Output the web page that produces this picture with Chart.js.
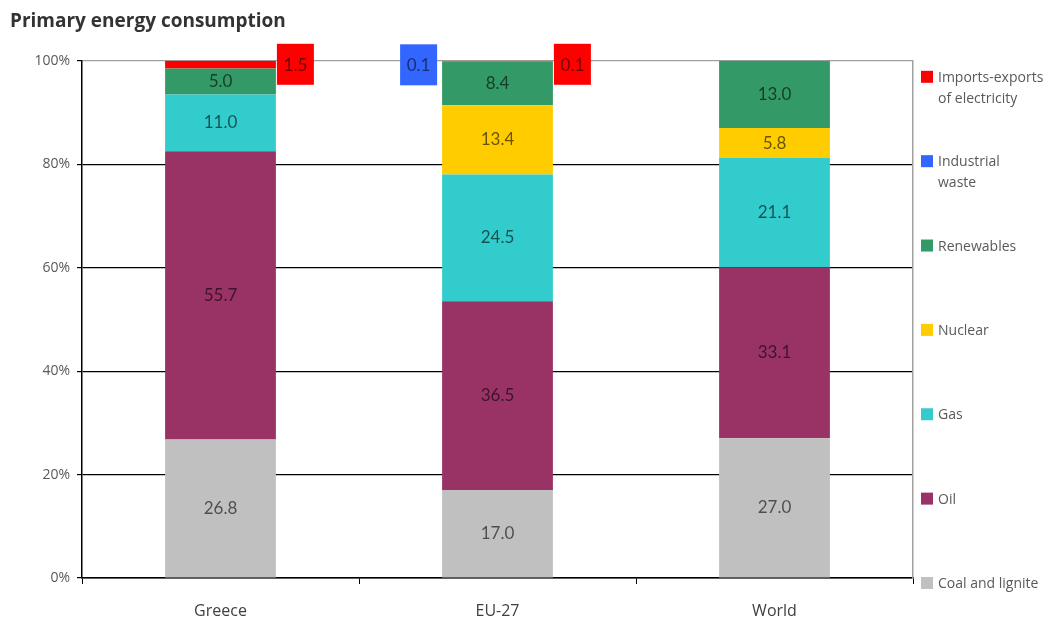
<!DOCTYPE html>
<html lang="en">
<head>
    <meta charset="UTF-8">
    <title>Primary energy consumption</title>
    <script src="https://cdn.jsdelivr.net/npm/chart.js"></script>
    <style>
        html, body { margin: 0; padding: 0; background: #fff; }
        #wrap { width: 1061px; height: 621px; }
    </style>
</head>
<body>
    <div id="wrap"><canvas id="grafico"></canvas></div>

    <script>
// Dados (percentagens)
const regions = ['Greece', 'EU-27', 'World'];
const coal = [26.8, 17.0, 27.0];
const oil = [55.7, 36.5, 33.1];
const gas = [11.0, 24.5, 21.1];
const nuclear = [0, 13.4, 5.8];
const renewables = [5.0, 8.4, 13.0];
const industrialWaste = [0, 0.1, 0];
const importsExports = [1.5, 0.1, 0];
const yTicks = [0, 20, 40, 60, 80, 100];

const seriesNames = ['Coal and lignite', 'Oil', 'Gas', 'Nuclear', 'Renewables', 'Industrial waste', 'Imports-exports of electricity'];
const legendLines = [['Coal and lignite'], ['Oil'], ['Gas'], ['Nuclear'], ['Renewables'], ['Industrial', 'waste'], ['Imports-exports', 'of electricity']];
const seriesValues = [coal, oil, gas, nuclear, renewables, industrialWaste, importsExports];
const colors = ['#c0c0c0', '#993366', '#33cccc', '#ffcc00', '#339966', '#3366ff', '#ff0000'];
// small values get a box beside the bar
const outsideSide = [null, null, null, null, null, 'left', 'right'];

Chart.defaults.font.family = '"Open Sans", "DejaVu Sans", sans-serif';

// rótulos dos valores
const etiquetas = {
    id: 'etiquetas',
    afterDatasetsDraw(chart) {
        const ctx = chart.ctx;
        ctx.save();
        ctx.font = '17px Lato';
        ctx.textAlign = 'center';
        ctx.textBaseline = 'middle';
        chart.data.datasets.forEach((ds, i) => {
            const meta = chart.getDatasetMeta(i);
            meta.data.forEach((bar, j) => {
                const v = ds.data[j];
                if (!v) return;
                const txt = v.toFixed(1);
                if (!ds.outside) {
                    ctx.fillStyle = 'rgba(0,0,0,0.6)';
                    ctx.fillText(txt, bar.x, (bar.y + bar.base) / 2);
                } else {
                    const w = 37, h = 41;
                    const left = ds.outside === 'right'
                        ? bar.x + bar.width / 2 + 1
                        : bar.x - bar.width / 2 - 5 - w;
                    const top = bar.y - 17;
                    ctx.fillStyle = ds.backgroundColor;
                    ctx.fillRect(left, top, w, h);
                    ctx.fillStyle = 'rgba(0,0,0,0.55)';
                    ctx.fillText(txt, left + w / 2, top + h / 2 + 1);
                }
            });
        });
        ctx.restore();
    }
};

// legenda à direita, espalhada na altura do gráfico
const legenda = {
    id: 'legenda',
    afterDraw(chart) {
        const { ctx, chartArea } = chart;
        const items = chart.data.datasets.slice().reverse();
        const first = chartArea.top + 16;
        const last = chartArea.bottom + 5;
        const step = (last - first) / (items.length - 1);
        ctx.save();
        ctx.font = '14px "Open Sans"';
        ctx.textBaseline = 'middle';
        ctx.textAlign = 'left';
        items.forEach((ds, k) => {
            const y = first + k * step;
            ctx.fillStyle = ds.backgroundColor;
            ctx.fillRect(chartArea.right + 8, y - 6, 12, 12);
            ctx.fillStyle = '#595959';
            ds.legendLines.forEach((line, n) => {
                ctx.fillText(line, chartArea.right + 25, y + 1 + n * 21);
            });
        });
        ctx.restore();
    }
};

const datasets = seriesNames.map((name, i) => ({
    label: name,
    data: seriesValues[i],
    backgroundColor: colors[i],
    borderWidth: 0,
    barPercentage: 0.4,
    categoryPercentage: 1.0,
    legendLines: legendLines[i],
    outside: outsideSide[i]
}));

new Chart(document.getElementById('grafico'), {
    type: 'bar',
    data: { labels: regions, datasets: datasets },
    plugins: [etiquetas, legenda],
    options: {
        responsive: true,
        maintainAspectRatio: false,
        animation: false,
        layout: { padding: { left: 10, right: 148, top: 0, bottom: 0 } },
        plugins: {
            legend: { display: false },
            tooltip: { enabled: false },
            title: {
                display: true,
                text: 'Primary energy consumption',
                align: 'start',
                color: '#333',
                font: { size: 19, weight: 'bold' },
                padding: { top: 10, bottom: 28 }
            }
        },
        scales: {
            x: {
                stacked: true,
                grid: {
                    offset: true,
                    drawOnChartArea: false,
                    tickLength: 6,
                    tickColor: '#000'
                },
                border: { color: '#000', width: 1.5 },
                ticks: { color: '#404040', font: { size: 16 }, padding: 18 },
                afterFit(scale) { scale.height = 43; }
            },
            y: {
                stacked: true,
                min: 0,
                max: 100,
                afterBuildTicks(scale) { scale.ticks = yTicks.map(v => ({ value: v })); },
                grid: {
                    color: ctx => ctx.tick && ctx.tick.value === 100 ? '#a0a0a0' : '#000',
                    tickColor: '#000',
                    tickLength: 5,
                    lineWidth: 1.2
                },
                border: { color: '#000', width: 1.5 },
                ticks: {
                    color: '#595959',
                    font: { size: 14 },
                    padding: 7,
                    callback: v => v + '%'
                },
                afterFit(scale) { scale.width = 72; }
            },
            y2: {
                position: 'right',
                min: 0,
                max: 100,
                grid: { display: false, drawTicks: false },
                ticks: { display: false },
                border: { color: '#a0a0a0', width: 1.5 }
            }
        }
    }
});
    </script>
</body>
</html>
